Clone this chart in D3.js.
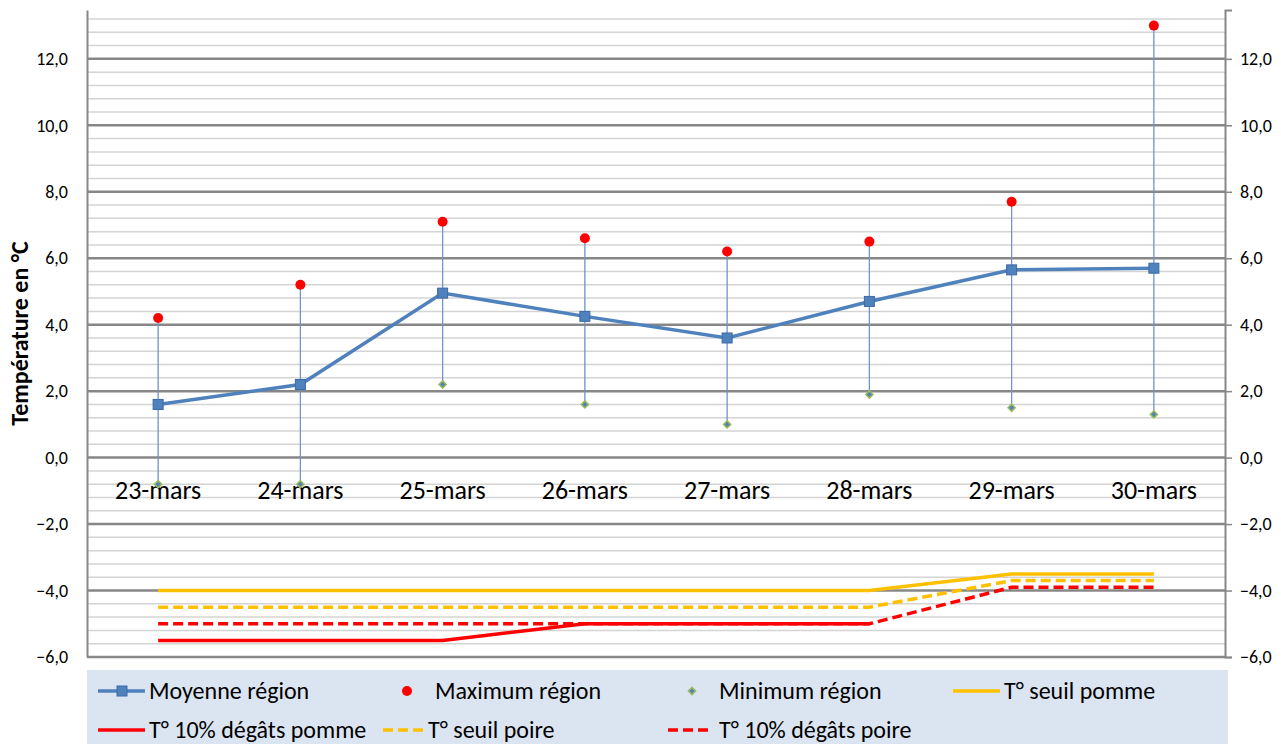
<!DOCTYPE html>
<html>
<head>
<meta charset="utf-8">
<script src="https://cdn.jsdelivr.net/npm/d3@7"></script>
<style>
  body { margin: 0; background: #fff; }
  text { font-family: Carlito, Lato, "Open Sans", sans-serif; }
</style>
</head>
<body>
<script>
// data
const days = ["23-mars", "24-mars", "25-mars", "26-mars", "27-mars", "28-mars", "29-mars", "30-mars"];
const moyenne = [1.6, 2.2, 4.95, 4.25, 3.6, 4.7, 5.65, 5.7];
const maximum = [4.2, 5.2, 7.1, 6.6, 6.2, 6.5, 7.7, 13.0];
const minimum = [-0.8, -0.8, 2.2, 1.6, 1.0, 1.9, 1.5, 1.3];
const seuilPomme = [-4, -4, -4, -4, -4, -4, -3.5, -3.5];
const degatsPomme = [-5.5, -5.5, -5.5, -5, -5, -5, null, null];
const seuilPoire = [-4.5, -4.5, -4.5, -4.5, -4.5, -4.5, -3.7, -3.7];
const degatsPoire = [-5, -5, -5, -5, -5, -5, -3.9, -3.9];
const yTicks = [-6, -4, -2, 0, 2, 4, 6, 8, 10, 12];

const canvWidth = 1281, canvHeight = 744;
const margin = {top: 10, right: 56, bottom: 87, left: 87};
const width = canvWidth - margin.left - margin.right;
const height = canvHeight - margin.top - margin.bottom;

const svg = d3.select("body").append("svg")
    .attr("width", canvWidth)
    .attr("height", canvHeight);

const g = svg.append("g")
    .attr("transform", `translate(${margin.left},${margin.top})`);

const xScale = d3.scaleBand().range([0, width]).domain(days);
const xc = d => xScale(d) + xScale.bandwidth() / 2;
const yScale = d3.scaleLinear().range([height, 0]).domain([-6, 13.47]);

// minor grid (every 0.4)
const minor = d3.range(-6, 13.4, 0.4).map(v => Math.round(v * 10) / 10)
    .filter(v => !yTicks.includes(v));
g.selectAll(".minor").data(minor).enter().append("line")
    .attr("class", "minor")
    .attr("x1", 0).attr("x2", width)
    .attr("y1", d => yScale(d)).attr("y2", d => yScale(d))
    .attr("stroke", "#d4d4d4").attr("stroke-width", 1.5);

// major grid
g.selectAll(".major").data(yTicks).enter().append("line")
    .attr("class", "major")
    .attr("x1", 0).attr("x2", width)
    .attr("y1", d => yScale(d)).attr("y2", d => yScale(d))
    .attr("stroke", "#878787").attr("stroke-width", 2.5);

// left and right axes
const fmt = d => d3.format(".1f")(d).replace(".", ",");
const axL = g.append("g").call(d3.axisLeft(yScale).tickValues(yTicks).tickSize(0).tickPadding(19).tickFormat(fmt));
const axR = g.append("g").attr("transform", `translate(${width},0)`)
    .call(d3.axisRight(yScale).tickValues(yTicks).tickSize(7).tickPadding(8).tickFormat(fmt));
[axL, axR].forEach(ax => {
    ax.select(".domain").attr("stroke", "#878787").attr("stroke-width", 2);
    ax.selectAll(".tick line").attr("stroke", "#878787").attr("stroke-width", 1.5);
    ax.selectAll("text").attr("font-size", "18px").attr("fill", "#000")
        .style("font-family", "Carlito, Lato, 'Open Sans', sans-serif");
});

// y title
g.append("text")
    .attr("transform", "rotate(-90)")
    .attr("x", -height / 2)
    .attr("y", -59)
    .attr("font-size", "24px")
    .attr("font-weight", "bold")
    .style("text-anchor", "middle")
    .text("Température en °C");

// threshold lines
const thresholds = [
    {vals: degatsPoire, color: "#ff0000", dash: "10,5"},
    {vals: seuilPoire, color: "#ffc000", dash: "10,5"},
    {vals: degatsPomme, color: "#ff0000", dash: null},
    {vals: seuilPomme, color: "#ffc000", dash: null}
];
const lineGen = d3.line()
    .defined(d => d.v !== null)
    .x(d => xc(d.day)).y(d => yScale(d.v));
thresholds.forEach(t => {
    g.append("path")
        .datum(days.map((day, i) => ({day: day, v: t.vals[i]})))
        .attr("d", lineGen)
        .attr("fill", "none")
        .attr("stroke", t.color)
        .attr("stroke-width", 3.5)
        .attr("stroke-dasharray", t.dash);
});

// high-low lines
g.selectAll(".hilo").data(days).enter().append("line")
    .attr("class", "hilo")
    .attr("x1", d => xc(d)).attr("x2", d => xc(d))
    .attr("y1", (d, i) => yScale(maximum[i]))
    .attr("y2", (d, i) => yScale(minimum[i]))
    .attr("stroke", "#6d95c9").attr("stroke-width", 1.3);

// category labels next to 0
g.selectAll(".xlab").data(days).enter().append("text")
    .attr("class", "xlab")
    .attr("x", d => xc(d))
    .attr("y", yScale(0) + 41)
    .attr("font-size", "26px")
    .style("text-anchor", "middle")
    .text(d => d);

// mean line
g.append("path")
    .datum(days.map((day, i) => ({day: day, v: moyenne[i]})))
    .attr("d", lineGen)
    .attr("fill", "none")
    .attr("stroke", "#4f81bd")
    .attr("stroke-width", 3.5);

g.selectAll(".sq").data(days).enter().append("rect")
    .attr("class", "sq")
    .attr("x", d => xc(d) - 5)
    .attr("y", (d, i) => yScale(moyenne[i]) - 5)
    .attr("width", 10).attr("height", 10)
    .attr("fill", "#4f81bd").attr("stroke", "#3a6aa5").attr("stroke-width", 1);

// max points
g.selectAll(".maxp").data(days).enter().append("circle")
    .attr("class", "maxp")
    .attr("cx", d => xc(d))
    .attr("cy", (d, i) => yScale(maximum[i]))
    .attr("r", 5)
    .attr("fill", "#ff0000");

// min points (rotated squares)
const diamond = d3.symbol().type(d3.symbolSquare).size(26);
g.selectAll(".minp").data(days).enter().append("path")
    .attr("class", "minp")
    .attr("transform", (d, i) => `translate(${xc(d)},${yScale(minimum[i])}) rotate(45)`)
    .attr("d", diamond)
    .attr("fill", "#4f81bd").attr("stroke", "#9bbb59").attr("stroke-width", 1.5);

// legend
const leg = svg.append("g").attr("transform", "translate(87,670)");
leg.append("rect").attr("width", 1141).attr("height", 74).attr("fill", "#dbe5f1");

function legLine(x, y, color, dash, w) {
    leg.append("line").attr("x1", x).attr("x2", x + w).attr("y1", y).attr("y2", y)
        .attr("stroke", color).attr("stroke-width", 3.5).attr("stroke-dasharray", dash);
}
function legText(x, y, s) {
    leg.append("text").attr("x", x).attr("y", y + 8).attr("font-size", "24px").text(s);
}
const r1 = 21, r2 = 60;
legLine(11, r1, "#4f81bd", null, 47);
leg.append("rect").attr("x", 30).attr("y", r1 - 5).attr("width", 10).attr("height", 10)
    .attr("fill", "#4f81bd").attr("stroke", "#3a6aa5");
legText(62, r1, "Moyenne région");
leg.append("circle").attr("cx", 320).attr("cy", r1).attr("r", 5).attr("fill", "#ff0000");
legText(348, r1, "Maximum région");
leg.append("path").attr("transform", `translate(605,${r1}) rotate(45)`).attr("d", diamond)
    .attr("fill", "#4f81bd").attr("stroke", "#9bbb59").attr("stroke-width", 1.5);
legText(632, r1, "Minimum région");
legLine(866, r1, "#ffc000", null, 47);
legText(917, r1, "T° seuil pomme");
legLine(11, r2, "#ff0000", null, 47);
legText(62, r2, "T° 10% dégâts pomme");
legLine(296, r2, "#ffc000", "10,5", 40);
legText(341, r2, "T° seuil poire");
legLine(581, r2, "#ff0000", "10,5", 42);
legText(632, r2, "T° 10% dégâts poire");
</script>
</body>
</html>
